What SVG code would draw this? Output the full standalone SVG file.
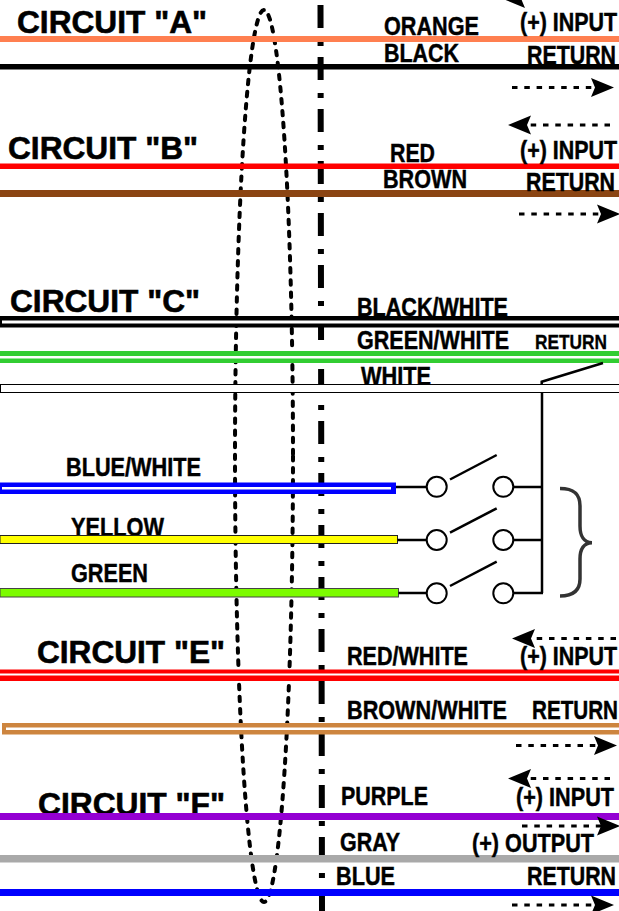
<svg xmlns="http://www.w3.org/2000/svg" width="619" height="911" viewBox="0 0 619 911">
<style>
text{font-family:"Liberation Sans",Arial,sans-serif;font-weight:bold;fill:#000;stroke:#000;stroke-width:.45px;font-size:26px}
.h{font-size:32px;stroke-width:.6px}
.s{font-size:20.500px;stroke-width:.35px}
.arrow{stroke:#000;stroke-width:3;stroke-dasharray:5.5 6.8;fill:none;marker-end:url(#head)}
.sw{fill:#fff;stroke:#000;stroke-width:2}
.ln{stroke:#000;stroke-width:2.5;fill:none}
</style>
<defs>
<marker id="head" markerUnits="userSpaceOnUse" markerWidth="26" markerHeight="22" refX="4" refY="11" orient="auto" overflow="visible">
<path d="M0 1.500L23 11L0 20.500L4 11Z" fill="#000"/>
</marker>
</defs>
<rect width="619" height="911" fill="#fff"/>
<g id="separators">
<path d="M320.5 5L322 911" fill="none" stroke="#000" stroke-width="6" stroke-dasharray="23 13 5 11"/>
<ellipse cx="264" cy="456" rx="29" ry="446" fill="none" stroke="#000" stroke-width="4" stroke-linecap="round" stroke-dasharray="4.5 7.6"/>
</g>
<g id="under-labels">
<text class="h" x="38" y="815" textLength="187" lengthAdjust="spacingAndGlyphs">CIRCUIT "F"</text>
<text x="361" y="385" textLength="70" lengthAdjust="spacingAndGlyphs">WHITE</text>
<text x="71" y="536" textLength="93" lengthAdjust="spacingAndGlyphs">YELLOW</text>
</g>
<g id="connectors">
<rect x="0" y="36" width="619" height="6" fill="#ff7f50"/>
<rect x="0" y="64" width="619" height="5.5" fill="#000"/>
<rect x="0" y="163.500" width="619" height="5.500" fill="#f00"/>
<rect x="0" y="190" width="619" height="7" fill="#8b4513"/>
<rect x="0" y="316" width="619" height="11.500" fill="#000"/>
<rect x="2" y="320.500" width="617" height="3" fill="#fff"/>
<rect x="0" y="351" width="619" height="12" fill="#32cd32"/>
<rect x="0" y="356" width="619" height="2.500" fill="#fff"/>
<rect x="0.500" y="384.500" width="620" height="8" fill="#fff" stroke="#000" stroke-width="1"/>
<rect x="0" y="482.500" width="396" height="11.500" fill="#00f"/>
<rect x="2" y="487" width="389" height="2.500" fill="#fff"/>
<rect x="0" y="535.500" width="397.500" height="8" fill="#ff0" stroke="#222" stroke-width="1"/>
<rect x="0" y="588.500" width="398.500" height="8.500" fill="#7cfc00" stroke="#444" stroke-width="1"/>
<rect x="0" y="669.500" width="619" height="11.500" fill="#f00"/>
<rect x="0" y="673.500" width="619" height="2" fill="#fff"/>
<rect x="2" y="723" width="617" height="11.500" fill="#cd853f"/>
<rect x="6" y="727.500" width="613" height="2.500" fill="#fff"/>
<rect x="0" y="813" width="619" height="7" fill="#9400d3"/>
<rect x="0" y="855" width="619" height="7.500" fill="#a9a9a9"/>
<rect x="0" y="889" width="619" height="7" fill="#00f"/>
<path class="ln" d="M396 487H427M513 487H542M397.500 540H427M513 540H542M398.500 593H427M513 593H543M542 593V393"/>
<path class="ln" d="M541.700 384V381.700L603 363"/>
<path class="arrow" d="M610 -1.500H521"/>
<path class="arrow" d="M512 87.500H595"/>
<path class="arrow" d="M610 125H527"/>
<path class="arrow" d="M519 214H601"/>
<path class="arrow" d="M616 638.500H531"/>
<path class="arrow" d="M516 745.500H598"/>
<path class="arrow" d="M610 778.500H527"/>
<path class="arrow" d="M522 826H601"/>
<path class="arrow" d="M512 905H595"/>
</g>
<g id="switch-1"><circle class="sw" cx="436.700" cy="486.800" r="10"/><circle class="sw" cx="503.300" cy="486.800" r="10"/><path class="ln" d="M450 479.500L496.700 455"/></g>
<g id="switch-2"><circle class="sw" cx="436.700" cy="540" r="10"/><circle class="sw" cx="503.300" cy="540" r="10"/><path class="ln" d="M450 532.700L496.700 508.300"/></g>
<g id="switch-3"><circle class="sw" cx="436.700" cy="593.300" r="10"/><circle class="sw" cx="503.300" cy="593.300" r="10"/><path class="ln" d="M450 586L496.700 561.700"/></g>
<g id="brace"><path d="M560 488.500C573 488.500 580 493 580 506V526C580 536 584 542.700 592 542.700C584 542.700 580 549 580 559V579C580 591 573 596 560 596" fill="none" stroke="#333" stroke-width="3.5"/></g>
<g id="circuit-a">
<text class="h" x="17" y="33" textLength="190" lengthAdjust="spacingAndGlyphs">CIRCUIT "A"</text>
<text x="384" y="35" textLength="95" lengthAdjust="spacingAndGlyphs">ORANGE</text>
<text x="384" y="62" textLength="75" lengthAdjust="spacingAndGlyphs">BLACK</text>
<text x="520" y="31" textLength="97" lengthAdjust="spacingAndGlyphs">(+) INPUT</text>
<text x="527" y="64" textLength="89" lengthAdjust="spacingAndGlyphs">RETURN</text>
</g>
<g id="circuit-b">
<text class="h" x="8" y="159" textLength="190" lengthAdjust="spacingAndGlyphs">CIRCUIT "B"</text>
<text x="390" y="162" textLength="45" lengthAdjust="spacingAndGlyphs">RED</text>
<text x="383" y="188" textLength="84" lengthAdjust="spacingAndGlyphs">BROWN</text>
<text x="520" y="159" textLength="97" lengthAdjust="spacingAndGlyphs">(+) INPUT</text>
<text x="526" y="191" textLength="89" lengthAdjust="spacingAndGlyphs">RETURN</text>
</g>
<g id="circuit-c">
<text class="h" x="10" y="312" textLength="190" lengthAdjust="spacingAndGlyphs">CIRCUIT "C"</text>
<text x="357" y="316" textLength="151" lengthAdjust="spacingAndGlyphs">BLACK/WHITE</text>
<text x="357" y="349" textLength="152" lengthAdjust="spacingAndGlyphs">GREEN/WHITE</text>
<text class="s" x="535" y="349" textLength="72" lengthAdjust="spacingAndGlyphs">RETURN</text>
<text x="66" y="476" textLength="135" lengthAdjust="spacingAndGlyphs">BLUE/WHITE</text>
<text x="71" y="582" textLength="77" lengthAdjust="spacingAndGlyphs">GREEN</text>
</g>
<g id="circuit-e">
<text class="h" x="37" y="663" textLength="188" lengthAdjust="spacingAndGlyphs">CIRCUIT "E"</text>
<text x="347" y="665" textLength="121" lengthAdjust="spacingAndGlyphs">RED/WHITE</text>
<text x="347" y="718.500" textLength="160" lengthAdjust="spacingAndGlyphs">BROWN/WHITE</text>
<text x="520" y="665" textLength="97" lengthAdjust="spacingAndGlyphs">(+) INPUT</text>
<text x="532" y="718.500" textLength="86" lengthAdjust="spacingAndGlyphs">RETURN</text>
</g>
<g id="circuit-f">
<text x="341" y="805" textLength="87" lengthAdjust="spacingAndGlyphs">PURPLE</text>
<text x="340" y="851" textLength="60" lengthAdjust="spacingAndGlyphs">GRAY</text>
<text x="336" y="885" textLength="59" lengthAdjust="spacingAndGlyphs">BLUE</text>
<text x="516" y="806" textLength="98" lengthAdjust="spacingAndGlyphs">(+) INPUT</text>
<text x="472" y="852" textLength="122" lengthAdjust="spacingAndGlyphs">(+) OUTPUT</text>
<text x="527" y="885" textLength="89" lengthAdjust="spacingAndGlyphs">RETURN</text>
</g>
</svg>
